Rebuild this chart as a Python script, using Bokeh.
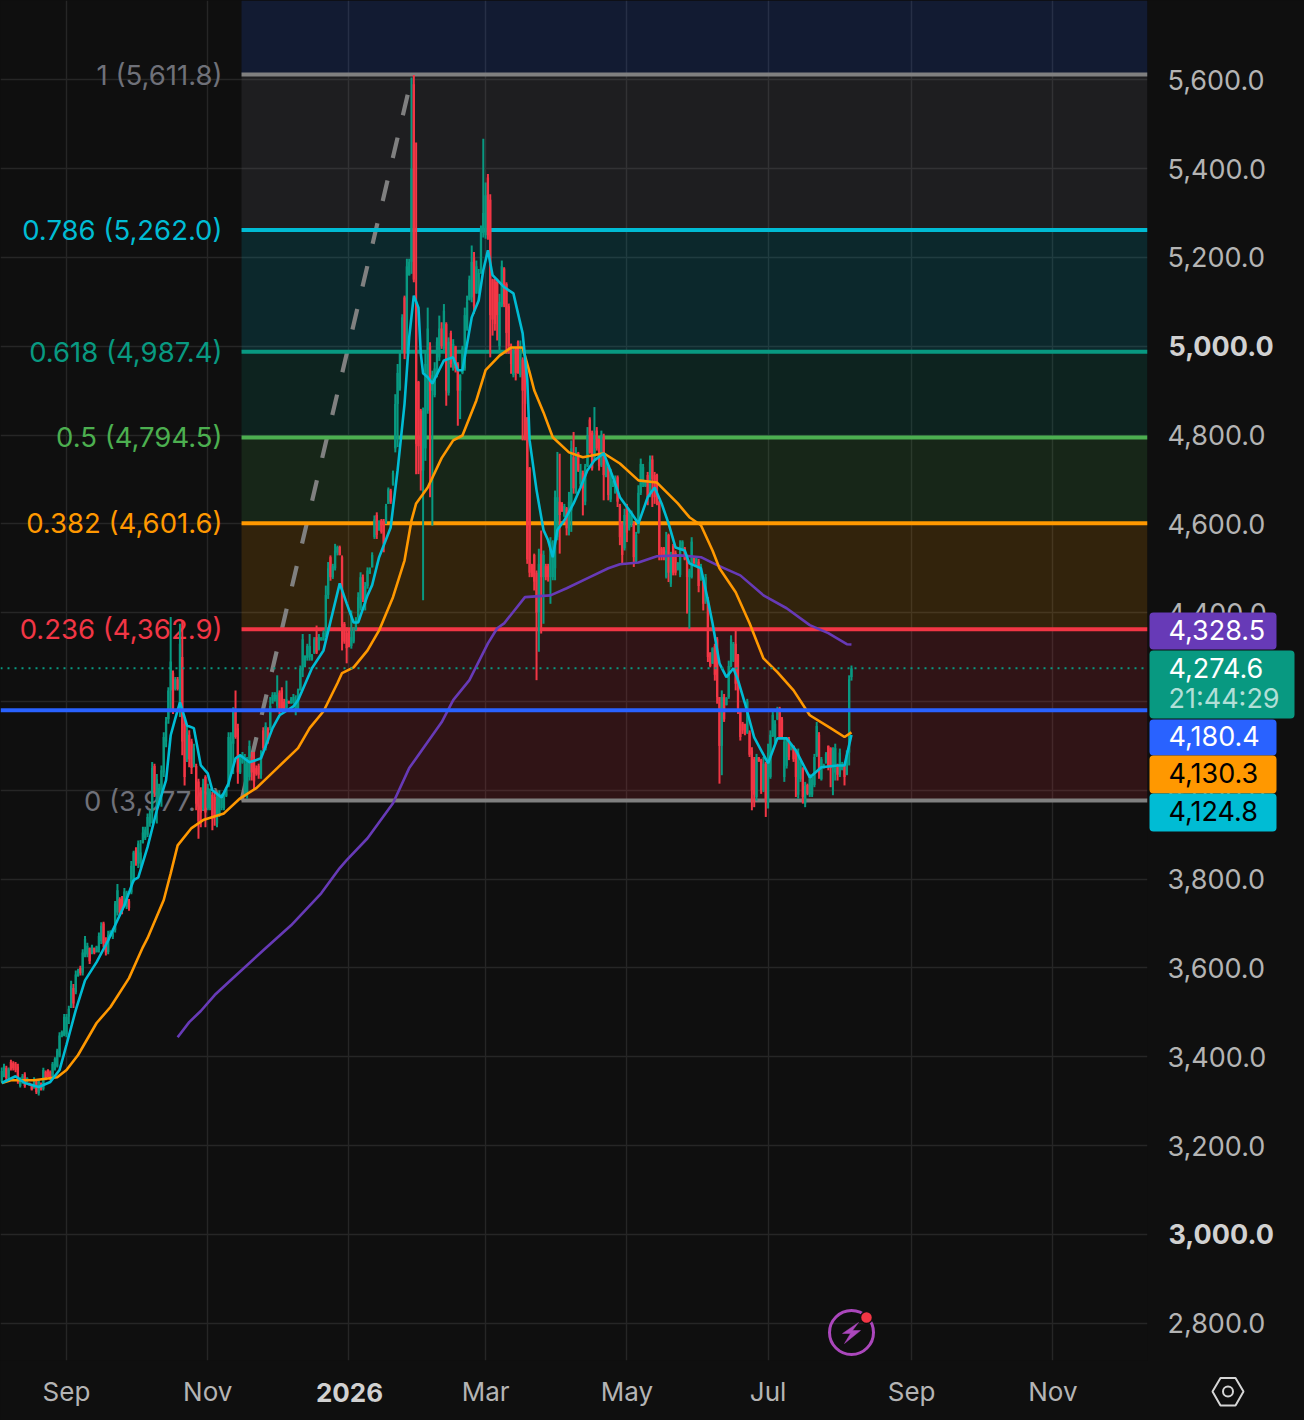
from datetime import datetime, timedelta
from bokeh.plotting import figure
from bokeh.models import ColumnDataSource, Range1d, FixedTicker, Label, BoxAnnotation
from bokeh.core.properties import value
from bokeh.embed import file_html
from bokeh.resources import INLINE

# daily candles (open, high, low, close), one list per calendar month
aug25 = [(3345,3376,3342,3368),(3358,3384,3354,3378),(3375,3380,3347,3352),(3352,3376,3350,3372),(3388,3393,3369,3372),(3386,3390,3369,3374),(3384,3388,3365,3370),(3378,3384,3339,3345),(3334,3354,3331,3350),(3342,3361,3339,3356),(3360,3365,3330,3334),(3344,3354,3342,3352),(3341,3342,3335,3336),(3335,3339,3324,3326),(3330,3354,3328,3350),(3344,3347,3316,3320),(3318,3350,3313,3345),(3340,3342,3324,3327),(3328,3375,3324,3370),(3366,3369,3347,3350),(3370,3372,3354,3357),(3366,3369,3347,3350),(3356,3388,3354,3384),(3372,3399,3369,3395),(3378,3418,3376,3414),(3402,3455,3399,3448),(3446,3459,3444,3456),(3448,3496,3446,3490)]
sep25 = [(3450,3496,3444,3490),(3490,3515,3474,3508),(3510,3571,3515,3560),(3555,3564,3510,3520),(3545,3594,3541,3585),(3582,3598,3580,3595),(3600,3605,3583,3588),(3590,3642,3583,3635),(3630,3672,3624,3665),(3630,3657,3624,3650),(3645,3646,3609,3615),(3635,3652,3631,3648),(3645,3646,3631,3634),(3636,3650,3635,3648),(3640,3680,3635,3672),(3660,3703,3654,3695),(3700,3704,3646,3655),(3660,3669,3628,3635),(3636,3684,3631,3675),(3672,3685,3670,3682),(3670,3688,3665,3680),(3685,3751,3680,3745),(3725,3789,3718,3775),(3755,3759,3718,3725),(3755,3762,3721,3730),(3740,3780,3736,3772),(3738,3774,3733,3768),(3750,3755,3729,3735),(3770,3841,3766,3830),(3800,3864,3793,3860)]
oct25 = [(3865,3872,3830,3840),(3835,3887,3825,3880),(3835,3888,3827,3860),(3882,3918,3880,3905),(3892,3918,3888,3912),(3900,3948,3895,3940),(3925,3955,3918,3948),(3950,4064,3925,4050),(4055,4060,3985,3995),(3990,4037,3925,4025),(3980,4015,3970,4005),(4000,4056,3963,4045),(4040,4131,4030,4120),(4110,4165,4097,4155),(4160,4232,4150,4225),(4225,4390,4176,4290),(4265,4270,4172,4180),(4228,4255,4225,4250),(4250,4255,4225,4228),(4190,4375,4165,4330),(4300,4382,4079,4110),(4150,4165,4011,4030),(4070,4146,4064,4130),(4125,4135,4052,4070),(4110,4116,4037,4050),(4060,4105,4052,4095),(4055,4060,3955,3970),(4020,4026,3891,3930),(4000,4007,3917,3950),(3960,4026,3955,4015),(4030,4034,3917,3950)]
nov25 = [(3960,4015,3955,4005),(3960,4004,3955,3998),(3990,3996,3910,3935),(3985,3996,3920,3940),(3925,3992,3917,3975),(3945,4000,3940,3990),(3960,3992,3955,3985),(3960,3992,3955,3985),(3988,4007,3985,4003),(4010,4131,4007,4120),(4045,4131,4037,4110),(4105,4187,4037,4180),(4180,4225,4116,4120),(4140,4150,4015,4040),(4040,4082,4037,4075),(4062,4086,4060,4080),(4000,4082,3985,4060),(3995,4075,3981,4065),(4030,4112,4022,4100),(4075,4086,4022,4040),(4070,4086,4003,4020),(4050,4056,4033,4037),(4055,4060,4026,4035),(4035,4090,4026,4080),(4135,4142,4090,4095),(4095,4153,4090,4145),(4138,4142,4105,4110),(4140,4210,4135,4190),(4195,4221,4202,4215),(4205,4221,4200,4215)]
dec25 = [(4190,4259,4180,4215),(4220,4225,4172,4180),(4225,4232,4180,4185),(4200,4206,4176,4180),(4185,4247,4180,4205),(4201,4202,4195,4196),(4196,4210,4195,4205),(4198,4217,4195,4210),(4180,4214,4169,4205),(4185,4229,4180,4225),(4225,4281,4225,4275),(4270,4352,4255,4340),(4285,4304,4277,4298),(4298,4330,4292,4325),(4300,4352,4292,4325),(4295,4307,4292,4305),(4310,4345,4307,4340),(4345,4371,4307,4310),(4318,4352,4315,4345),(4338,4345,4337,4344),(4338,4360,4337,4355),(4355,4461,4345,4440),(4440,4514,4431,4500),(4525,4529,4472,4480),(4480,4510,4476,4505),(4500,4555,4495,4540),(4535,4551,4529,4548),(4548,4551,4529,4530),(4525,4529,4315,4370),(4375,4379,4330,4335),(4355,4367,4286,4320)]
jan26 = [(4352,4360,4322,4330),(4325,4405,4319,4345),(4335,4367,4331,4360),(4362,4390,4360,4385),(4390,4446,4380,4435),(4410,4491,4405,4480),(4480,4486,4424,4430),(4420,4469,4405,4460),(4460,4502,4454,4495),(4488,4502,4487,4500),(4502,4536,4502,4530),(4570,4619,4566,4610),(4620,4626,4566,4575),(4585,4608,4585,4605),(4608,4611,4578,4582),(4605,4611,4536,4555),(4605,4645,4600,4640),(4645,4682,4645,4678),(4675,4679,4645,4650),(4688,4720,4686,4715),(4770,4892,4761,4870),(4870,4960,4773,4940),(4905,4990,4900,4985),(4990,5072,4990,5065),(5110,5114,4971,4985),(4985,5197,4990,5180),(5160,5197,5159,5190),(5190,5605,5163,5400),(5590,5611,5144,5150),(5100,5459,4712,4780),(4920,4922,4712,4775)]
feb26 = [(4855,4859,4675,4720),(4720,4862,4428,4855),(4770,4990,4742,4960),(4855,5087,4848,5040),(5000,5009,4660,4900),(4900,4945,4596,4935),(4890,4964,4885,4950),(4935,5020,4930,5010),(4975,5069,4967,5040),(5040,5054,4994,5000),(4995,5095,4990,5080),(5050,5054,4866,4900),(4895,5020,4889,5010),(5030,5035,4952,4960),(4950,5016,4945,5005),(5000,5001,4941,4950),(4960,4964,4821,4900),(4900,4937,4836,4935),(4940,5001,4937,4995),(4950,5087,4945,5070),(5040,5114,5035,5100),(5105,5159,5103,5150),(5110,5227,5099,5190),(5200,5212,5073,5090),(5120,5193,5118,5180),(5125,5174,5118,5165),(5170,5272,5163,5260),(5255,5467,5245,5300)]
mar26 = [(5250,5369,5242,5340),(5380,5388,5240,5250),(5330,5342,4975,5070),(5150,5152,5024,5060),(5145,5152,5035,5050),(5145,5152,5013,5070),(5000,5118,4990,5100),(5090,5193,5088,5180),(5175,5178,5088,5095),(5140,5144,4983,5030),(5090,5096,4983,5000),(5000,5006,4938,4960),(4935,4998,4930,4990),(4995,4998,4923,4940),(5010,5013,4938,4950),(4935,5013,4930,4990),(4970,4975,4788,4900),(4960,4975,4788,4870),(4840,4840,4510,4520),(4725,4728,4480,4490),(4508,4510,4480,4482),(4530,4533,4450,4470),(4490,4495,4248,4400),(4400,4544,4312,4510),(4533,4585,4353,4480),(4480,4540,4375,4530),(4505,4510,4473,4480),(4505,4510,4470,4480),(4480,4570,4420,4560),(4480,4563,4473,4540),(4500,4675,4473,4660)]
apr26 = [(4570,4762,4563,4660),(4650,4758,4533,4620),(4640,4649,4627,4630),(4618,4645,4615,4640),(4635,4638,4574,4590),(4585,4672,4574,4650),(4630,4788,4582,4770),(4750,4807,4668,4680),(4675,4773,4668,4750),(4760,4762,4717,4720),(4690,4735,4683,4720),(4715,4720,4619,4680),(4650,4735,4642,4730),(4730,4818,4728,4800),(4835,4840,4758,4760),(4805,4810,4720,4725),(4750,4863,4743,4800),(4810,4818,4765,4770),(4790,4792,4720,4730),(4732,4810,4728,4800),(4795,4803,4653,4710),(4708,4743,4705,4735),(4728,4732,4653,4665),(4655,4724,4649,4715),(4685,4698,4683,4696),(4670,4709,4668,4700),(4705,4709,4638,4650),(4640,4645,4552,4570),(4600,4604,4510,4530),(4545,4634,4540,4620)]
may26 = [(4640,4645,4559,4580),(4590,4630,4585,4625),(4600,4630,4593,4620),(4600,4604,4503,4525),(4515,4582,4510,4575),(4580,4687,4578,4670),(4670,4747,4665,4735),(4690,4735,4683,4728),(4685,4698,4683,4695),(4710,4717,4642,4660),(4665,4754,4660,4740),(4745,4754,4638,4700),(4710,4717,4645,4660),(4710,4713,4642,4650),(4650,4653,4518,4530),(4545,4548,4518,4525),(4545,4548,4518,4530),(4480,4582,4477,4540),(4575,4578,4469,4490),(4465,4537,4458,4530),(4550,4555,4484,4490),(4535,4540,4484,4490),(4497,4514,4495,4512),(4485,4563,4480,4550),(4542,4563,4540,4560),(4545,4548,4518,4520),(4520,4525,4398,4480),(4480,4499,4364,4495),(4480,4570,4477,4560),(4523,4525,4510,4512),(4505,4525,4503,4522)]
jun26 = [(4515,4521,4446,4460),(4475,4510,4472,4505),(4470,4472,4405,4420),(4425,4487,4420,4480),(4430,4435,4289,4300),(4310,4311,4277,4280),(4285,4322,4285,4320),(4325,4330,4247,4260),(4340,4345,4195,4210),(4210,4210,4015,4100),(4100,4225,4034,4210),(4210,4217,4154,4160),(4192,4210,4191,4208),(4210,4292,4206,4280),(4280,4349,4277,4340),(4292,4334,4289,4330),(4330,4360,4225,4240),(4305,4307,4172,4185),(4178,4180,4112,4120),(4150,4154,4127,4135),(4148,4150,4124,4130),(4130,4206,4127,4200),(4130,4135,4075,4080),(4090,4097,3955,4000),(4070,4075,3962,3990),(3985,4082,3977,4075),(4074,4075,4064,4065),(4068,4071,3992,4000),(4000,4075,3996,4060),(4060,4064,3940,3980)]
jul26 = [(3975,4105,3959,4085),(4030,4135,4026,4125),(4122,4180,4120,4170),(4110,4158,4105,4150),(4160,4188,4158,4180),(4185,4188,4116,4120),(4160,4165,4120,4125),(4030,4120,4019,4110),(4055,4120,4049,4115),(4115,4120,4068,4075),(4092,4105,4090,4103),(4100,4101,4064,4070),(4085,4090,3985,4030),(3990,4094,3981,4085),(4025,4071,4019,4065),(4050,4052,3970,3985),(3970,4019,3962,4010),(4012,4015,3989,3992),(3990,4037,3985,4030),(3990,4030,3985,4025),(4012,4082,4007,4075),(4078,4154,4075,4145),(4125,4131,4026,4040),(4025,4075,4022,4070),(4050,4060,4049,4058),(4062,4086,4060,4082),(4100,4101,4045,4055),(4095,4097,4007,4050),(4050,4097,3989,4090),(4040,4105,4022,4095),(4055,4060,4022,4035)]
aug26 = [(4035,4094,4030,4085),(4047,4064,4045,4060),(4058,4060,4011,4030),(4035,4090,4034,4080),(4085,4259,4056,4250),(4255,4281,4247,4274.6)]

# indicator lines: day offset from 1 Sep 2025, price
ema_fast_days = [-28,-22,-18,-12,-7,-3,0,4,8,13,18,21,25,29,31,35,39,43,45,47,49,51,52,55,58,61,63,67,70,73,75,79,84,89,92,98,100,106,111,118,121,124,126,130,132,135,140,143,146,148,150,152,153,154,156,158,163,167,169,171,175,178,180,182,184,189,193,197,199,200,203,206,208,210,212,215,219,222,225,228,232,236,239,244,247,251,254,257,260,263,267,269,274,277,279,282,285,288,290,293,297,300,303,307,311,315,321,326,333,336,339]
ema_fast = [3341,3356,3341,3332,3343,3370,3427,3505,3572,3613,3662,3696,3741,3798,3804,3872,3955,4023,4124,4162,4198,4164,4146,4140,4056,4038,4000,3984,4016,4072,4079,4063,4072,4140,4169,4189,4203,4275,4315,4466,4421,4378,4378,4439,4462,4525,4592,4721,4871,5020,5114,5087,4984,4939,4930,4916,4968,4975,4946,4946,5065,5103,5171,5216,5160,5133,5119,5029,4923,4788,4676,4586,4563,4525,4586,4608,4646,4682,4721,4743,4759,4705,4660,4624,4601,4660,4682,4646,4601,4547,4540,4511,4500,4428,4376,4286,4255,4275,4248,4196,4119,4090,4061,4117,4117,4090,4029,4052,4056,4056,4124.8]
ema_mid_days = [-28,-24,-14,-4,0,5,13,19,27,33,35,42,45,48,54,59,68,75,82,91,100,105,111,117,119,124,130,135,141,146,149,151,156,162,167,171,177,181,187,192,197,200,202,206,210,217,223,232,239,247,255,264,269,274,279,282,289,295,301,307,314,321,330,336,339]
ema_mid = [3341,3347,3347,3354,3370,3404,3476,3512,3577,3647,3667,3753,3813,3876,3915,3933,3948,3982,4005,4050,4095,4140,4178,4241,4264,4277,4315,4360,4435,4518,4608,4646,4682,4748,4788,4799,4878,4946,4979,4997,4997,4941,4901,4851,4795,4761,4750,4759,4736,4698,4693,4646,4615,4597,4540,4500,4446,4376,4297,4266,4225,4169,4140,4120,4130.3]
ema_slow_days = [48,53,58,64,71,85,97,110,118,121,130,141,148,162,167,174,182,186,189,198,209,216,226,234,239,247,255,265,274,281,291,301,311,321,329,337,339]
ema_slow = [3444,3478,3503,3539,3573,3640,3696,3768,3825,3843,3892,3971,4050,4153,4203,4248,4331,4365,4376,4435,4439,4455,4480,4500,4509,4513,4527,4529,4525,4507,4484,4439,4410,4372,4354,4329,4328.5]

# month axis
month_days = [0, 61, 122, 181, 242, 303, 365, 426]
month_labels = ["Sep", "Nov", "", "Mar", "May", "Jul", "Sep", "Nov"]
price_ticks = [2800,3000,3200,3400,3600,3800,4000,4200,4400,4600,4800,5000,5200,5400,5600,5800]

# Fibonacci retracement
fib_ratios = ["1","0.786","0.618","0.5","0.382","0.236","0"]
fib_prices = [5611.8,5262.0,4987.4,4794.5,4601.6,4362.9,3977.0]
fib_colors = ["#808080","#00bcd4","#089981","#4caf50","#ff9800","#f23645","#808080"]
fib_fills = ["#787b86","#00bcd4","#089981","#4caf50","#ff9800","#f23645"]
fib_text = ["1 (5,611.8)","0.786 (5,262.0)","0.618 (4,987.4)","0.5 (4,794.5)","0.382 (4,601.6)","0.236 (4,362.9)","0 (3,977.0)"]
fib_text_colors = ["#6f7179","#00bcd4","#089981","#4caf50","#ff9800","#f23645","#6f7179"]

last_price = 4274.6
line_price = 4180.4
tag_texts = ["4,328.5","4,274.6","4,180.4","4,130.3","4,124.8"]
tag_colors = ["#673ab7","#089981","#2962ff","#ff9800","#00bcd4"]
tag_text_colors = ["#ffffff","#ffffff","#ffffff","#000000","#000000"]
countdown = "21:44:29"

BG = "#0f0f0f"
DAY = 86400000.0
T0 = datetime(2025, 9, 1)
EPOCH = datetime(1970, 1, 1)
t0_ms = (T0 - EPOCH).total_seconds() * 1000

def day_ms(d):
    return t0_ms + d * DAY

# pixel helpers for furniture that sits at a fixed place on the canvas
PX_PER_DAY = 2.3155
PX_PER_USD = 0.44407
def x_at(px):
    return day_ms((px - 66) / PX_PER_DAY)
def y_at(py):
    return 5600 - (py - 79.3) / PX_PER_USD

p = figure(width=1304, height=1420, output_backend="svg", toolbar_location=None,
           x_axis_type="datetime", y_axis_location="right",
           x_range=Range1d(x_at(0), x_at(1147)), y_range=Range1d(y_at(1360), y_at(0)),
           min_border_left=0, min_border_top=0, min_border_right=157, min_border_bottom=60,
           background_fill_color=BG, border_fill_color=BG, outline_line_color=None)

FONT = "Inter"
FS = "26px"
FS_Y = "27px"
LABEL = "#b4b4b4"
TICKMS = [day_ms(d) for d in month_days]

p.xaxis.ticker = FixedTicker(ticks=TICKMS)
p.xaxis.major_label_overrides = {t: l for t, l in zip(TICKMS, month_labels)}
p.yaxis.ticker = FixedTicker(ticks=price_ticks)
p.yaxis.major_label_overrides = {t: ("" if t in (3000, 5000) else f"{t:,.1f}") for t in price_ticks}
for ax in (p.xaxis[0], p.yaxis[0]):
    ax.axis_line_color = None
    ax.major_tick_line_color = None
    ax.minor_tick_line_color = None
    ax.major_label_text_color = LABEL
    ax.major_label_text_font = FONT
p.xaxis.major_label_text_font_size = FS
p.yaxis.major_label_text_font_size = FS_Y
p.yaxis.major_label_standoff = 14
p.xaxis.major_label_standoff = 9
p.xgrid.ticker = FixedTicker(ticks=TICKMS)
p.ygrid.ticker = FixedTicker(ticks=price_ticks)
p.grid.grid_line_color = "#262626"
p.grid.grid_line_width = 1.4

# bands
x_l = day_ms(75.6)
x_r = x_at(1147)
tops = fib_prices[:-1]
bots = fib_prices[1:]
p.quad(left=x_l, right=x_r, top=tops, bottom=bots, fill_color=fib_fills, fill_alpha=0.15, line_color=None)
p.quad(left=x_l, right=x_r, top=[y_at(0)], bottom=[fib_prices[0]], fill_color="#2962ff", fill_alpha=0.15, line_color=None)

# fib labels under the candles
p.text(x=[x_at(222)] * 7, y=fib_prices, text=fib_text, text_color=fib_text_colors, text_align="right",
       text_baseline="middle", text_font=value(FONT), text_font_size="27.5px")

# trend line of the retracement
p.line([x_l, day_ms(149.4)], [fib_prices[-1], fib_prices[0]], line_color="#808080", line_width=4.2, line_dash="21 23")

# fib level lines
p.segment(x0=x_l, x1=x_r, y0=fib_prices, y1=fib_prices, line_color=fib_colors, line_width=4)

# candles
months = [aug25, sep25, oct25, nov25, dec25, jan26, feb26, mar26, apr26, may26, jun26, jul26, aug26]
rows = [r for m in months for r in m]
xs = [day_ms(-28 + i) for i in range(len(rows))]
UP, DOWN = "#089981", "#f23645"
cols = [UP if r[3] >= r[0] else DOWN for r in rows]
src = ColumnDataSource(dict(x=xs, o=[r[0] for r in rows], h=[r[1] for r in rows], l=[r[2] for r in rows], c=[r[3] for r in rows], col=cols))
p.segment(x0="x", x1="x", y0="l", y1="h", line_color="col", line_width=2, source=src)
p.vbar(x="x", width=1.0 * DAY, top="o", bottom="c", fill_color="col", line_color=None, source=src)

# moving averages
p.line([day_ms(d) for d in ema_slow_days], ema_slow, line_color="#673ab7", line_width=2.6)
p.line([day_ms(d) for d in ema_mid_days], ema_mid, line_color="#ff9800", line_width=2.6)
p.line([day_ms(d) for d in ema_fast_days], ema_fast, line_color="#00bcd4", line_width=2.6)

# horizontal price line and last price dots
p.line([x_at(0), x_r], [line_price, line_price], line_color="#2962ff", line_width=4)
p.line([x_at(0), x_r], [last_price, last_price], line_color="#089981", line_width=2, line_dash="2 5")

# lightning badge
p.scatter([x_at(851)], [y_at(1332)], size=44, marker="circle", fill_color=None, line_color="#ab47bc", line_width=3)
p.patch([x_at(v) for v in (858, 842, 850, 844, 860, 852)], [y_at(v) for v in (1322, 1333, 1333, 1343, 1330, 1330)],
        fill_color="#ab47bc", line_color="#ab47bc", line_width=0.5)
p.scatter([x_at(866)], [y_at(1317)], size=12, marker="circle", fill_color="#f23645", line_color=BG, line_width=1.5)

# transparent pixel-space overlay: price tags, bold scale labels, settings icon
ov = figure(width=1304, height=1420, output_backend="svg", toolbar_location=None,
            x_range=Range1d(0, 1304), y_range=Range1d(1420, 0), x_axis_location=None, y_axis_location=None,
            min_border=0, background_fill_color=None, border_fill_color=None, outline_line_color=None)
ov.grid.visible = False
ov.styles = {"position": "absolute", "left": "0px", "top": "0px"}

def ov_label(px, py, text, color, size=FS_Y, style="normal", align="left", alpha=1.0):
    return Label(x=px, y=py, text=text, text_color=color, text_alpha=alpha, text_font=FONT, text_font_size=size,
                 text_font_style=style, text_align=align, text_baseline="middle")

boxes = [(1149, 1276, 612, 649), (1149, 1294, 650, 718), (1149, 1276, 719, 755), (1149, 1276, 755, 793), (1149, 1276, 793, 831)]
for (l, r, t, b), col in zip(boxes, tag_colors):
    ov.add_layout(BoxAnnotation(left=l, right=r, top=t, bottom=b, fill_color=col, fill_alpha=1, line_color=None, border_radius=4))
for txt, col, py in zip(tag_texts, tag_text_colors, (629, 667, 735, 772, 810)):
    ov.add_layout(ov_label(1168, py, txt, col))
ov.add_layout(ov_label(1168, 698, countdown, "#ffffff", alpha=0.7))
ov.add_layout(ov_label(1168, 345, "5,000.0", "#d1d1d1", style="bold"))
ov.add_layout(ov_label(1168, 1233, "3,000.0", "#d1d1d1", style="bold"))
ov.add_layout(ov_label(349, 1392, "2026", "#d1d1d1", size=FS, style="bold", align="center"))

ov.patch([1212, 1220, 1235, 1243, 1235, 1220], [1391, 1377.5, 1377.5, 1391, 1405, 1405], fill_color=None,
         line_color="#d6d6d6", line_width=2)
ov.scatter([1227.5], [1391], size=10, marker="circle", fill_color=None, line_color="#d6d6d6", line_width=2)

html = file_html((p, ov), INLINE)
html = html.replace("<head>", "<head><style>html,body{margin:0;padding:0;background:#0f0f0f}</style>", 1)
open("out.html", "w").write(html)
